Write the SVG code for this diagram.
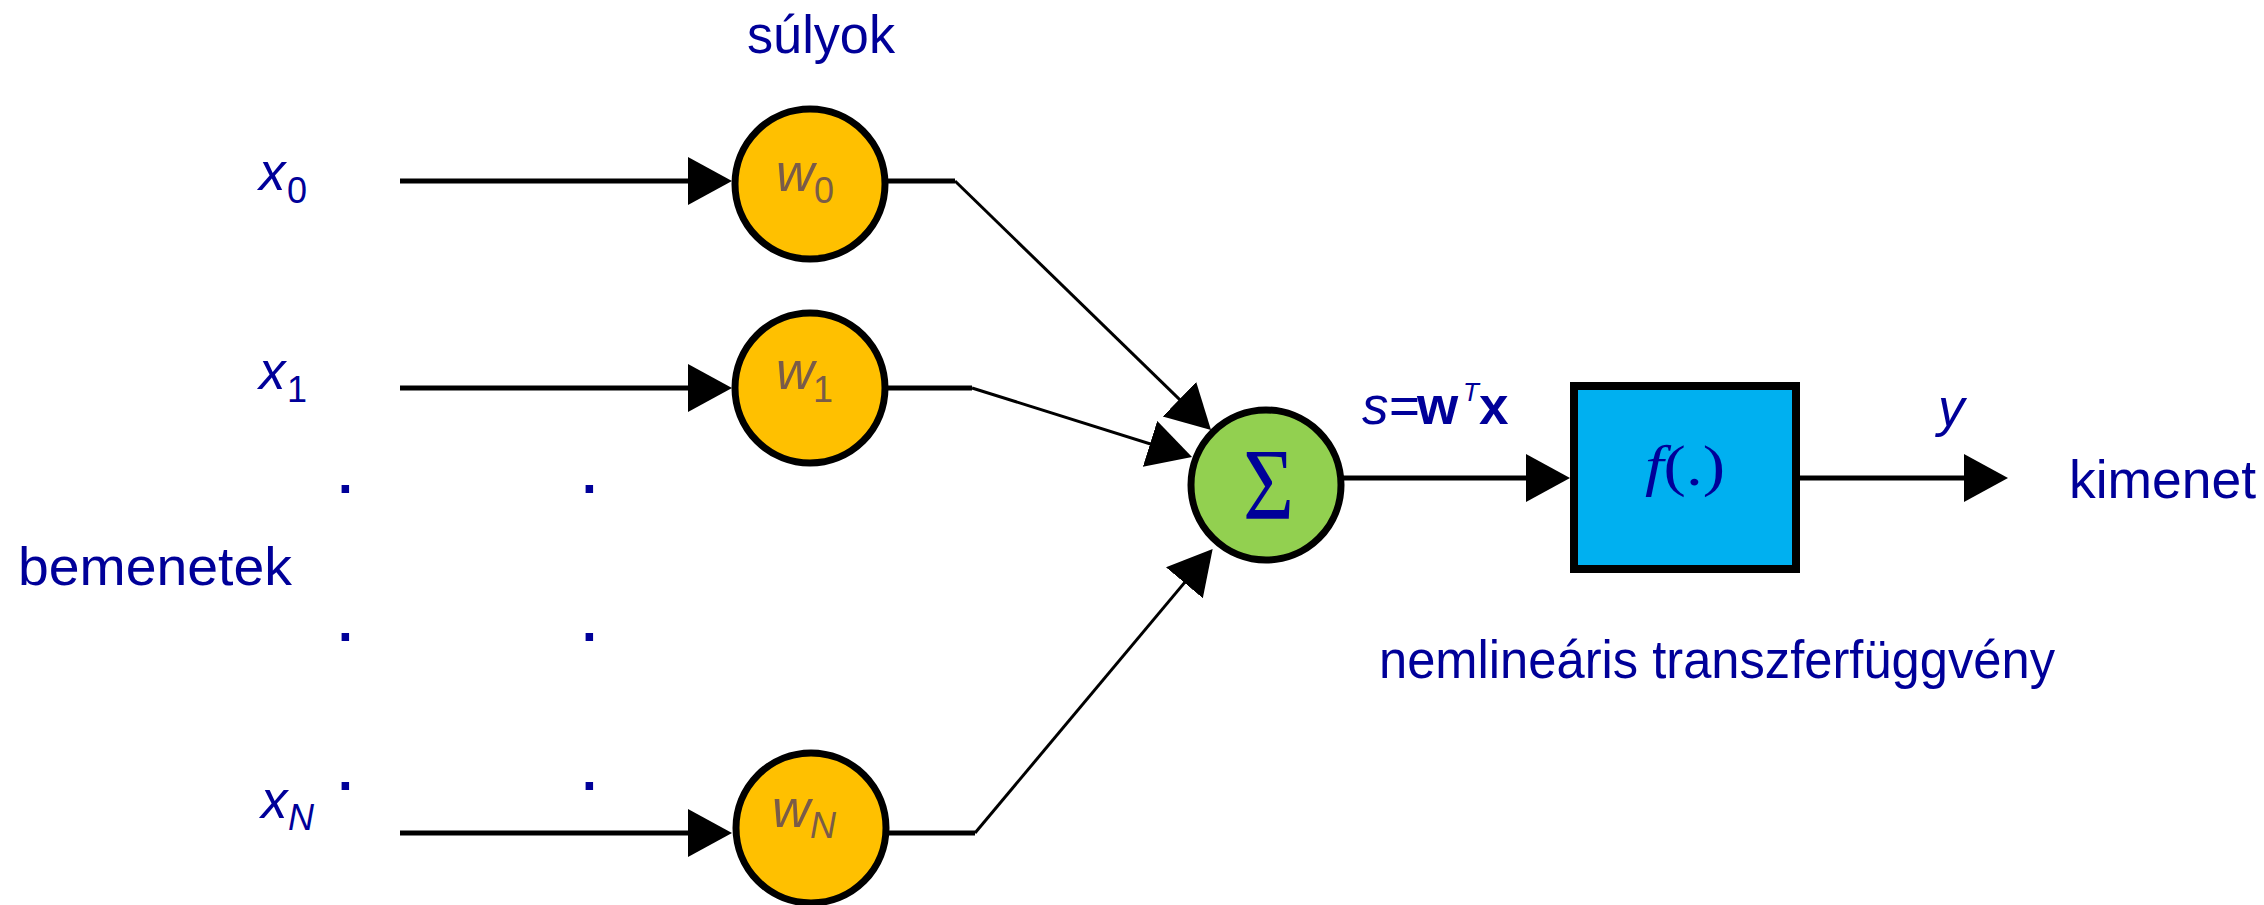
<svg xmlns="http://www.w3.org/2000/svg" width="2264" height="905" viewBox="0 0 2264 905">
  <style>
    .lbl { font-family: 'Liberation Sans', Arial, sans-serif; font-size: 53px; fill: #000099; }
    .it { font-style: italic; }
    .sub { font-size: 36px; }
    .wtxt { fill: #7a5c48; }
    .weight { fill: #FFC000; stroke: #000; stroke-width: 7; }
    .sum { fill: #92D050; stroke: #000; stroke-width: 7; }
    .fbox { fill: #00B0F0; stroke: #000; stroke-width: 8; }
    .line { stroke: #000; stroke-width: 5; fill: none; }
    .diag { stroke: #000; stroke-width: 3; fill: none; }
    .serif { font-family: 'Liberation Serif', 'Times New Roman', serif; fill: #000099; }
  </style>
  <defs>
    <marker id="arrow" markerUnits="userSpaceOnUse" viewBox="0 0 46 50" markerWidth="46" markerHeight="50" refX="38" refY="24" orient="auto">
      <path d="M0,0 L44,24 L0,48 Z" fill="#000"/>
    </marker>
  </defs>
  <rect width="2264" height="905" fill="#fff"/>

  <!-- headings -->
  <text id="label-weights" class="lbl" x="747" y="53" textLength="148" lengthAdjust="spacingAndGlyphs">súlyok</text>
  <text id="label-inputs" class="lbl" x="18" y="585" textLength="274" lengthAdjust="spacingAndGlyphs">bemenetek</text>
  <text id="label-output" class="lbl" x="2069" y="498" textLength="187" lengthAdjust="spacingAndGlyphs">kimenet</text>
  <text id="label-transfer" class="lbl" x="1379" y="678" textLength="676" lengthAdjust="spacingAndGlyphs">nemlineáris transzferfüggvény</text>

  <!-- ellipsis dots between x1 and xN -->
  <g id="ellipsis" class="lbl" font-weight="bold">
    <text x="338" y="493">.</text>
    <text x="582" y="493">.</text>
    <text x="338" y="641">.</text>
    <text x="582" y="641">.</text>
    <text x="338" y="790">.</text>
    <text x="582" y="790">.</text>
  </g>

  <!-- connectors -->
  <g id="connectors">
    <line class="line" x1="400" y1="181" x2="726" y2="181" marker-end="url(#arrow)"/>
    <line class="line" x1="400" y1="388" x2="726" y2="388" marker-end="url(#arrow)"/>
    <line class="line" x1="400" y1="833" x2="726" y2="833" marker-end="url(#arrow)"/>

    <line class="line" x1="886" y1="181" x2="955" y2="181"/>
    <line class="diag" x1="955" y1="181" x2="1206.7" y2="425.8" marker-end="url(#arrow)"/>
    <line class="line" x1="886" y1="388" x2="972" y2="388"/>
    <line class="diag" x1="972" y1="388" x2="1186.3" y2="455.2" marker-end="url(#arrow)"/>
    <line class="line" x1="888" y1="833" x2="975" y2="833"/>
    <line class="diag" x1="975" y1="833" x2="1208.8" y2="553.6" marker-end="url(#arrow)"/>

    <line class="line" x1="1343" y1="478" x2="1564" y2="478" marker-end="url(#arrow)"/>
    <line class="line" x1="1798" y1="478" x2="2002" y2="478" marker-end="url(#arrow)"/>
  </g>

  <!-- input labels -->
  <g id="x0"><text class="lbl it" x="259" y="190">x<tspan class="sub" font-style="normal" x="287" y="203">0</tspan></text></g>
  <g id="x1"><text class="lbl it" x="259" y="389">x<tspan class="sub" font-style="normal" x="287" y="402">1</tspan></text></g>
  <g id="xN"><text class="lbl it" x="261" y="818">x<tspan class="sub" x="288" y="830">N</tspan></text></g>

  <!-- weight nodes -->
  <g id="w0">
    <circle class="weight" cx="810" cy="184" r="75"/>
    <text class="lbl it wtxt" x="776" y="191">w<tspan class="sub" font-style="normal" x="814" y="203">0</tspan></text>
  </g>
  <g id="w1">
    <circle class="weight" cx="810" cy="388" r="75"/>
    <text class="lbl it wtxt" x="776" y="389">w<tspan class="sub" font-style="normal" x="813" y="402">1</tspan></text>
  </g>
  <g id="wN">
    <circle class="weight" cx="811" cy="828" r="75"/>
    <text class="lbl it wtxt" x="772" y="827">w<tspan class="sub" x="810" y="838">N</tspan></text>
  </g>

  <!-- summation node -->
  <g id="sum">
    <circle class="sum" cx="1266" cy="485" r="75"/>
    <text class="serif" x="1243" y="519" font-size="102" textLength="51" lengthAdjust="spacingAndGlyphs">Σ</text>
  </g>

  <!-- weighted sum label -->
  <g id="sum-label">
    <text class="lbl" y="424"><tspan class="it" x="1362">s</tspan><tspan x="1389">=</tspan><tspan x="1417" font-weight="bold">w</tspan><tspan class="it" x="1463" y="401" font-size="26">T</tspan><tspan x="1479" y="424" font-weight="bold">x</tspan></text>
  </g>

  <!-- transfer function block -->
  <g id="transfer">
    <rect class="fbox" x="1574" y="386" width="222" height="183"/>
    <text class="serif" x="1645" y="485" font-size="56" textLength="80" lengthAdjust="spacingAndGlyphs"><tspan font-style="italic">f</tspan>(.)</text>
  </g>

  <!-- output label -->
  <g id="y"><text class="lbl it" x="1938" y="426">y</text></g>
</svg>
